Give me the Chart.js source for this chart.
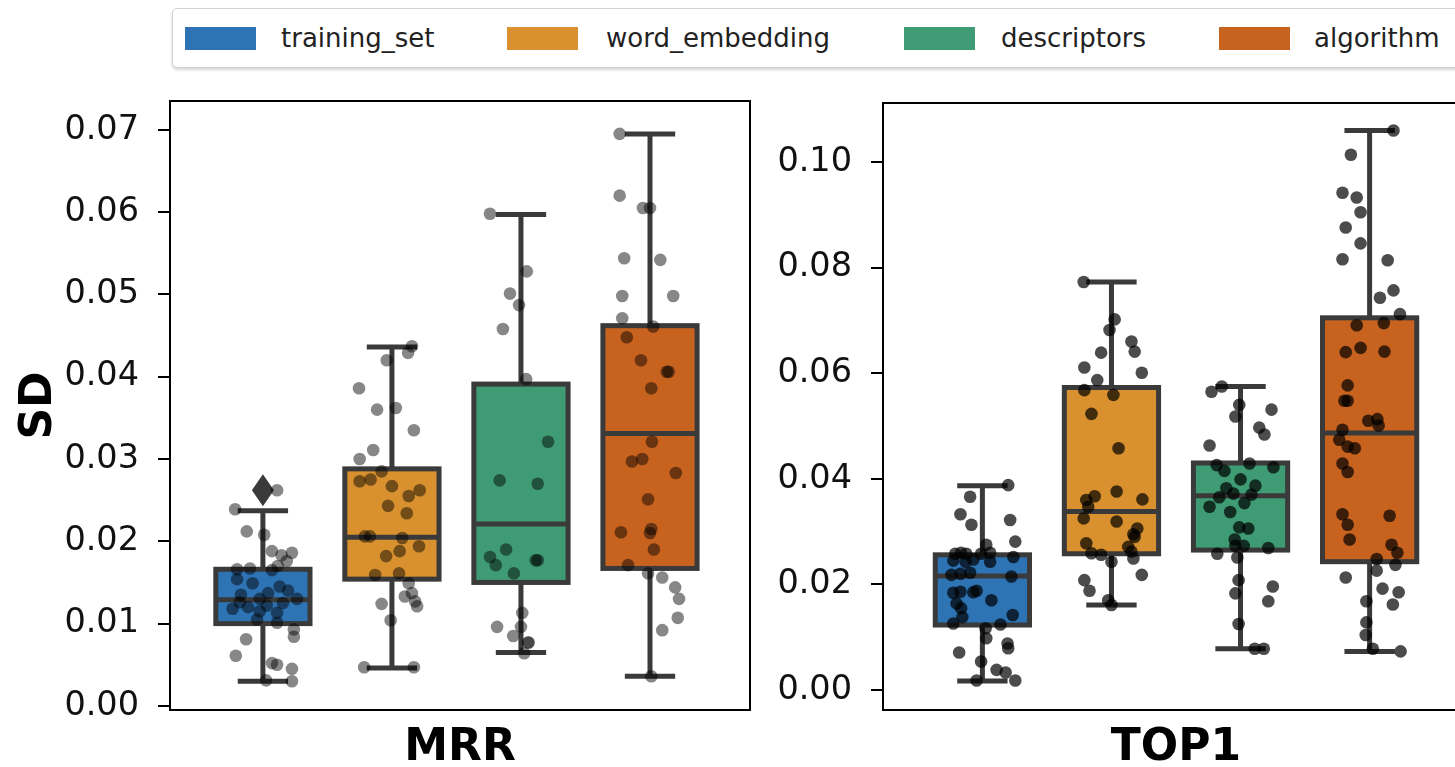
<!DOCTYPE html>
<html>
<head>
<meta charset="utf-8">
<script src="https://cdn.jsdelivr.net/npm/chart.js@4.4.1/dist/chart.umd.min.js"></script>
<style>
  html, body { margin:0; padding:0; width:1455px; height:767px; overflow:hidden; background:#fff; font-family:"DejaVu Sans", sans-serif; }
  #c1 { position:absolute; left:0; top:0; }
  #c2 { position:absolute; left:760px; top:0; }
  #legend { position:absolute; left:172px; top:8px; width:1330px; height:58px; border:1.5px solid #d2d2d2; border-radius:5px; box-shadow:0 2px 3px rgba(0,0,0,0.16); background:#fff; }
  .sw { position:absolute; top:18px; width:71px; height:23px; }
  .lt { position:absolute; top:14px; font-size:26px; line-height:30px; color:#222; white-space:nowrap; }
</style>
</head>
<body>
<div id="legend"></div>
<canvas id="c1" width="760" height="767"></canvas>
<canvas id="c2" width="720" height="767"></canvas>
<script>
// ---------------- DATA ----------------
const categories = ['training_set', 'word_embedding', 'descriptors', 'algorithm'];
const metrics = ['MRR', 'TOP1'];
const yAxisTitle = 'SD';
const mrrTicks = [0, 0.01, 0.02, 0.03, 0.04, 0.05, 0.06, 0.07];
const top1Ticks = [0, 0.02, 0.04, 0.06, 0.08, 0.10];

// box statistics
const mrrQ1     = [0.0100, 0.0154, 0.0150, 0.0167];
const mrrMedian = [0.0129, 0.0205, 0.0221, 0.0331];
const mrrQ3     = [0.0166, 0.0288, 0.0391, 0.0462];
const mrrLow    = [0.0030, 0.0046, 0.0065, 0.0036];
const mrrHigh   = [0.0237, 0.0436, 0.0597, 0.0695];
const mrrFliers = [[0.0262], [], [], []];

const top1Q1     = [0.0123, 0.0258, 0.0265, 0.0243];
const top1Median = [0.0216, 0.0338, 0.0368, 0.0487];
const top1Q3     = [0.0256, 0.0573, 0.0430, 0.0705];
const top1Low    = [0.0017, 0.0161, 0.0078, 0.0073];
const top1High   = [0.0387, 0.0773, 0.0575, 0.1060];
const top1Fliers = [[], [], [], []];

// individual points (SD values) and their strip jitter (x offsets, axis units)
const mrrTrainingSet = [0.0262,0.0239,0.0212,0.0208,0.0188,0.0183,0.0186,0.0176,0.0166,0.0167,0.0165,0.0170,0.0154,0.0149,0.0145,0.0140,0.0130,0.0130,0.0126,0.0118,0.0120,0.0122,0.0113,0.0105,0.0101,0.0093,0.0084,0.0081,0.0061,0.0050,0.0052,0.0045,0.0031,0.0030,0.0135,0.0137,0.0125,0.0115];
const mrrTrainingSetJitter = [0.022,-0.043,-0.025,0.002,0.014,0.029,0.045,0.037,-0.040,-0.020,0.014,0.023,-0.040,-0.016,0.026,0.039,0.053,-0.005,-0.036,-0.047,-0.023,0.006,0.022,-0.009,0.022,0.048,0.048,-0.026,-0.042,0.022,0.014,0.045,0.005,0.045,-0.034,0.008,0.031,-0.005];

const mrrWordEmbedding = [0.0437,0.0429,0.0420,0.0386,0.0360,0.0362,0.0335,0.0311,0.0300,0.0285,0.0273,0.0275,0.0267,0.0255,0.0262,0.0243,0.0234,0.0206,0.0206,0.0204,0.0194,0.0188,0.0182,0.0159,0.0161,0.0149,0.0137,0.0133,0.0127,0.0121,0.0124,0.0104,0.0047,0.0047];
const mrrWordEmbeddingJitter = [0.031,0.025,-0.008,-0.051,-0.023,0.006,0.034,-0.029,-0.050,-0.016,-0.050,-0.033,0,0.026,0.043,-0.006,0.023,-0.042,-0.034,0.016,0.042,0.012,-0.009,-0.026,0.011,0.026,0.031,0.020,0.036,0.039,-0.016,-0.002,-0.043,0.034];

const mrrDescriptors = [0.0598,0.0528,0.0501,0.0487,0.0458,0.0397,0.0321,0.0274,0.0270,0.0190,0.0181,0.0171,0.0177,0.0177,0.0161,0.0113,0.0096,0.0096,0.0085,0.0077,0.0077,0.0064];
const mrrDescriptorsJitter = [-0.048,0.009,-0.017,-0.003,-0.028,0.008,0.042,-0.033,0.026,-0.023,-0.048,-0.039,0.023,0.026,-0.011,0.002,0,-0.037,-0.012,0.011,0.012,0.005];

const mrrAlgorithm = [0.0695,0.0620,0.0605,0.0605,0.0544,0.0542,0.0498,0.0498,0.0471,0.0461,0.0448,0.0420,0.0406,0.0406,0.0386,0.0321,0.0297,0.0300,0.0283,0.0251,0.0211,0.0215,0.0210,0.0190,0.0171,0.0161,0.0156,0.0144,0.0130,0.0107,0.0092,0.0036];
const mrrAlgorithmJitter = [-0.047,-0.047,-0.011,0,-0.040,0.016,-0.043,0.036,-0.043,0.005,-0.036,-0.014,0.026,0.029,0.002,0.003,-0.028,-0.012,0.040,-0.003,-0.045,0.002,0,0.006,-0.034,-0.003,0.019,0.039,0.045,0.043,0.019,0.002];

const top1TrainingSet = [0.0388,0.0366,0.0333,0.0313,0.0322,0.0281,0.0275,0.0258,0.0260,0.0258,0.0258,0.0260,0.0252,0.0245,0.0243,0.0247,0.0243,0.0218,0.0220,0.0222,0.0215,0.0184,0.0186,0.0185,0.0188,0.0170,0.0164,0.0155,0.0142,0.0126,0.0124,0.0138,0.0117,0.0098,0.0088,0.0079,0.0071,0.0054,0.0038,0.0033,0.0018,0.0018];
const top1TrainingSetJitter = [0.040,-0.019,-0.034,-0.017,0.043,0.051,0.006,-0.042,-0.033,-0.025,-0.002,0.012,0.048,-0.045,-0.026,-0.014,0.012,-0.048,-0.034,-0.019,0.045,-0.045,-0.034,-0.014,-0.009,0.014,-0.040,-0.033,0.047,-0.045,0.028,-0.031,0.005,0.006,0.039,0.040,-0.036,-0.002,0.022,0.036,-0.009,0.051];

const top1WordEmbedding = [0.0773,0.0702,0.0682,0.0660,0.0641,0.0639,0.0611,0.0587,0.0601,0.0568,0.0559,0.0523,0.0458,0.0376,0.0367,0.0360,0.0347,0.0361,0.0325,0.0319,0.0306,0.0290,0.0295,0.0278,0.0271,0.0262,0.0259,0.0256,0.0243,0.0249,0.0218,0.0208,0.0188,0.0170,0.0161];
const top1WordEmbeddingJitter = [-0.043,0.005,-0.003,0.031,0.036,-0.016,-0.042,-0.022,0.047,-0.042,0.003,-0.031,0.011,0.008,-0.026,-0.039,-0.036,0.048,-0.043,0.008,0.040,0.036,0.034,-0.039,0.026,0.031,-0.031,-0.016,0,0.034,0.047,-0.042,-0.034,-0.005,0];

const top1Descriptors = [0.0575,0.0565,0.0540,0.0518,0.0531,0.0497,0.0484,0.0463,0.0426,0.0415,0.0429,0.0422,0.0399,0.0387,0.0382,0.0372,0.0365,0.0370,0.0354,0.0347,0.0337,0.0308,0.0306,0.0285,0.0273,0.0273,0.0258,0.0269,0.0251,0.0208,0.0183,0.0196,0.0168,0.0125,0.0078,0.0078];
const top1DescriptorsJitter = [-0.029,-0.045,-0.002,-0.008,0.048,0.029,0.037,-0.048,-0.037,-0.025,0.014,0.051,0,0.023,-0.022,-0.011,-0.033,0.017,0.006,-0.048,-0.016,-0.002,0.012,-0.009,-0.008,0.005,-0.036,0.043,-0.005,-0.003,-0.008,0.050,0.043,-0.003,0.022,0.036];

const top1Algorithm = [0.1060,0.1014,0.0942,0.0933,0.0905,0.0876,0.0846,0.0816,0.0814,0.0757,0.0743,0.0712,0.0691,0.0695,0.0640,0.0648,0.0641,0.0577,0.0548,0.0548,0.0510,0.0513,0.0501,0.0493,0.0474,0.0461,0.0458,0.0429,0.0413,0.0333,0.0313,0.0330,0.0285,0.0275,0.0260,0.0248,0.0237,0.0226,0.0213,0.0192,0.0185,0.0162,0.0168,0.0128,0.0104,0.0078,0.0073];
const top1AlgorithmJitter = [0.037,-0.029,-0.042,-0.020,-0.014,-0.037,-0.014,-0.042,0.028,0.037,0.016,0.047,-0.020,0.022,-0.037,-0.014,0.023,-0.034,-0.039,-0.034,-0.002,0.012,0.014,-0.042,-0.047,-0.034,-0.023,-0.042,-0.034,-0.042,-0.034,0.031,-0.031,0.034,0.043,0.011,0.040,0.011,-0.037,0.020,0.045,0.036,-0.005,-0.005,-0.006,0.005,0.048];

// ---------------- STYLE ----------------
const palette = ['#2e74b5', '#d8912e', '#3f9b74', '#c8621f'];
const edgeColor = '#3a3a3a';
const FONT = '"DejaVu Sans", sans-serif';

// legend (HTML)
const legendLeft = [12, 334, 731, 1046];
const legendTextLeft = [108, 433, 828, 1141];
const legendEl = document.getElementById('legend');
categories.forEach((c, i) => {
  const s = document.createElement('div');
  s.className = 'sw'; s.style.left = legendLeft[i] + 'px'; s.style.background = palette[i];
  legendEl.appendChild(s);
  const t = document.createElement('div');
  t.className = 'lt'; t.style.left = legendTextLeft[i] + 'px'; t.textContent = c;
  legendEl.appendChild(t);
});

// ---------------- PLUGINS ----------------
const hueOffset = i => (i - (categories.length - 1) / 2) * 0.2;
const BOX_HW = 0.073, CAP_HW = 0.039;

const boxPlugin = {
  id: 'boxes',
  beforeDatasetsDraw(chart, args, opts) {
    const { ctx } = chart;
    const xs = chart.scales.x, ys = chart.scales.y;
    const st = opts.stats;
    ctx.save();
    ctx.beginPath();
    ctx.rect(chart.chartArea.left, chart.chartArea.top, chart.chartArea.right - chart.chartArea.left, chart.chartArea.bottom - chart.chartArea.top);
    ctx.clip();
    ctx.lineWidth = 5;
    ctx.strokeStyle = edgeColor;
    ctx.lineJoin = 'miter';
    st.q1.forEach((q1, i) => {
      const c = hueOffset(i);
      const xc = xs.getPixelForValue(c);
      const xl = xs.getPixelForValue(c - BOX_HW), xr = xs.getPixelForValue(c + BOX_HW);
      const cl = xs.getPixelForValue(c - CAP_HW), cr = xs.getPixelForValue(c + CAP_HW);
      const yq1 = ys.getPixelForValue(q1), yq3 = ys.getPixelForValue(st.q3[i]);
      const ymed = ys.getPixelForValue(st.median[i]);
      const ylo = ys.getPixelForValue(st.low[i]), yhi = ys.getPixelForValue(st.high[i]);
      ctx.beginPath();
      ctx.moveTo(xc, yq3); ctx.lineTo(xc, yhi);
      ctx.moveTo(xc, yq1); ctx.lineTo(xc, ylo);
      ctx.moveTo(cl, yhi); ctx.lineTo(cr, yhi);
      ctx.moveTo(cl, ylo); ctx.lineTo(cr, ylo);
      ctx.stroke();
      ctx.fillStyle = palette[i];
      ctx.fillRect(xl, yq3, xr - xl, yq1 - yq3);
      ctx.strokeRect(xl, yq3, xr - xl, yq1 - yq3);
      ctx.beginPath();
      ctx.moveTo(xl, ymed); ctx.lineTo(xr, ymed);
      ctx.stroke();
      ctx.fillStyle = edgeColor;
      st.fliers[i].forEach(v => {
        const fy = ys.getPixelForValue(v);
        ctx.beginPath();
        ctx.moveTo(xc, fy - 16); ctx.lineTo(xc + 11, fy); ctx.lineTo(xc, fy + 16); ctx.lineTo(xc - 11, fy);
        ctx.closePath(); ctx.fill();
      });
    });
    ctx.restore();
  }
};

const framePlugin = {
  id: 'frame',
  afterDatasetsDraw(chart) {
    const { ctx, chartArea: a } = chart;
    ctx.save();
    ctx.strokeStyle = '#000';
    ctx.lineWidth = 2;
    ctx.strokeRect(a.left, a.top, a.right - a.left, a.bottom - a.top);
    ctx.restore();
  }
};

// ---------------- CHARTS ----------------
function makeChart(canvasId, o) {
  const datasets = o.points.map((vals, i) => ({
    label: categories[i],
    data: vals.map((v, k) => ({ x: hueOffset(i) + o.jitter[i][k], y: v })),
    backgroundColor: o.pointColor,
    borderWidth: 0,
    pointRadius: 6.3,
    pointHoverRadius: 6.3
  }));
  return new Chart(document.getElementById(canvasId), {
    type: 'scatter',
    data: { datasets },
    options: {
      responsive: false,
      animation: false,
      events: [],
      layout: { padding: o.padding },
      plugins: {
        legend: { display: false },
        tooltip: { enabled: false },
        boxes: { stats: o.stats }
      },
      scales: {
        x: {
          type: 'linear',
          min: o.xMin, max: o.xMax,
          grid: { display: false },
          border: { display: false },
          ticks: { display: false },
          title: { display: true, text: o.title, color: '#000', font: { family: FONT, size: 44, weight: 'bold', lineHeight: 0.86 }, padding: { top: 0, bottom: 0 } },
          afterFit: s => { s.height = 57; }
        },
        y: {
          type: 'linear',
          min: o.yMin, max: o.yMax,
          afterBuildTicks: s => { s.ticks = o.ticks.map(v => ({ value: v })); },
          ticks: { color: '#111', font: { family: FONT, size: 33.5 }, padding: 19, callback: v => Number(v).toFixed(2) },
          grid: { display: true, drawOnChartArea: false, drawTicks: true, tickLength: 12, color: '#000', lineWidth: 2 },
          border: { display: false },
          title: { display: o.yTitle, text: yAxisTitle, color: '#000', font: { family: FONT, size: 44, weight: 'bold' }, padding: { top: 13, bottom: 0 } },
          afterFit: s => { s.width = o.yWidth; }
        }
      }
    },
    plugins: [boxPlugin, framePlugin]
  });
}

makeChart('c1', {
  title: metrics[0],
  points: [mrrTrainingSet, mrrWordEmbedding, mrrDescriptors, mrrAlgorithm],
  jitter: [mrrTrainingSetJitter, mrrWordEmbeddingJitter, mrrDescriptorsJitter, mrrAlgorithmJitter],
  stats: { q1: mrrQ1, median: mrrMedian, q3: mrrQ3, low: mrrLow, high: mrrHigh, fliers: mrrFliers },
  ticks: mrrTicks,
  yMin: -0.0005, yMax: 0.0735,
  xMin: -0.444, xMax: 0.455,
  pointColor: 'rgba(0,0,0,0.47)',
  yTitle: true,
  yWidth: 170,
  padding: { left: 0, top: 101, right: 10, bottom: 0 }
});

makeChart('c2', {
  title: metrics[1],
  points: [top1TrainingSet, top1WordEmbedding, top1Descriptors, top1Algorithm],
  jitter: [top1TrainingSetJitter, top1WordEmbeddingJitter, top1DescriptorsJitter, top1AlgorithmJitter],
  stats: { q1: top1Q1, median: top1Median, q3: top1Q3, low: top1Low, high: top1High, fliers: top1Fliers },
  ticks: top1Ticks,
  yMin: -0.0038, yMax: 0.1112,
  xMin: -0.454, xMax: 0.454,
  pointColor: 'rgba(0,0,0,0.70)',
  yTitle: false,
  yWidth: 123,
  padding: { left: 0, top: 103, right: 11, bottom: 0 }
});
</script>
</body>
</html>
